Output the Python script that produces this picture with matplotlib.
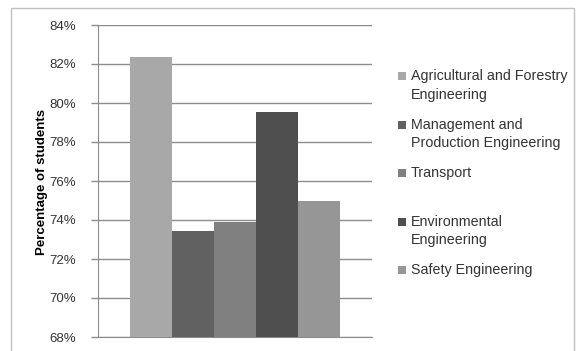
import matplotlib
matplotlib.use('Agg')
import matplotlib.pyplot as plt
from matplotlib.patches import Rectangle
from matplotlib.ticker import FuncFormatter
import numpy as np

# Data
departments = ["Agricultural and Forestry\nEngineering",
               "Management and\nProduction Engineering",
               "Transport",
               "Environmental\nEngineering",
               "Safety Engineering"]
percentages = [82.35, 73.45, 73.9, 79.55, 75.0]
bar_colors = ['#a8a8a8', '#616161', '#808080', '#4f4f4f', '#969696']

plt.rcParams['font.family'] = ['Liberation Sans', 'DejaVu Sans']

fig = plt.figure(figsize=(5.76, 3.51), dpi=100)
ax = fig.add_axes([98 / 576, 14 / 351, 274 / 576, 312 / 351])

# outer chart border
fig.patches.append(Rectangle((11 / 576, -0.05), 563 / 576, 1.05 - 8 / 351,
                             transform=fig.transFigure, fill=False,
                             edgecolor='#c0c0c0', linewidth=1.0))

x = np.arange(len(departments))
ax.bar(x, percentages, width=1.0, bottom=0, color=bar_colors,
       edgecolor='none', zorder=3)

ax.set_ylim(68, 84)
ax.set_yticks(np.arange(68, 85, 2))
ax.yaxis.set_major_formatter(FuncFormatter(lambda v, p: f'{v:.0f}%'))
ax.set_xlim(-0.5 - 32 / 42, 4.5 + 32 / 42)
ax.set_xticks([])
ax.grid(axis='y', color='#8c8c8c', linewidth=1.0, zorder=0)
ax.tick_params(axis='y', length=5, width=1.0, color='#8c8c8c',
               labelsize=9.5, labelcolor='#333333', pad=11)
for s in ['top', 'right']:
    ax.spines[s].set_visible(False)
for s in ['left', 'bottom']:
    ax.spines[s].set_color('#8c8c8c')

fig.text(42 / 576, 1 - 182 / 351, 'Percentage of students', rotation=90,
         ha='center', va='center', fontsize=9.5, fontweight='bold')

# legend drawn by hand to follow the evenly spaced Excel layout
for i, (name, col) in enumerate(zip(departments, bar_colors)):
    ytop = 69 + i * 48.5
    fig.patches.append(Rectangle((398 / 576, 1 - (ytop + 11) / 351), 8 / 576, 8 / 351,
                                 transform=fig.transFigure, facecolor=col,
                                 edgecolor='none'))
    fig.text(411 / 576, 1 - ytop / 351, name, ha='left', va='top',
             fontsize=10.3, color='#333333', linespacing=1.45)

fig.savefig('out.png', dpi=100)
